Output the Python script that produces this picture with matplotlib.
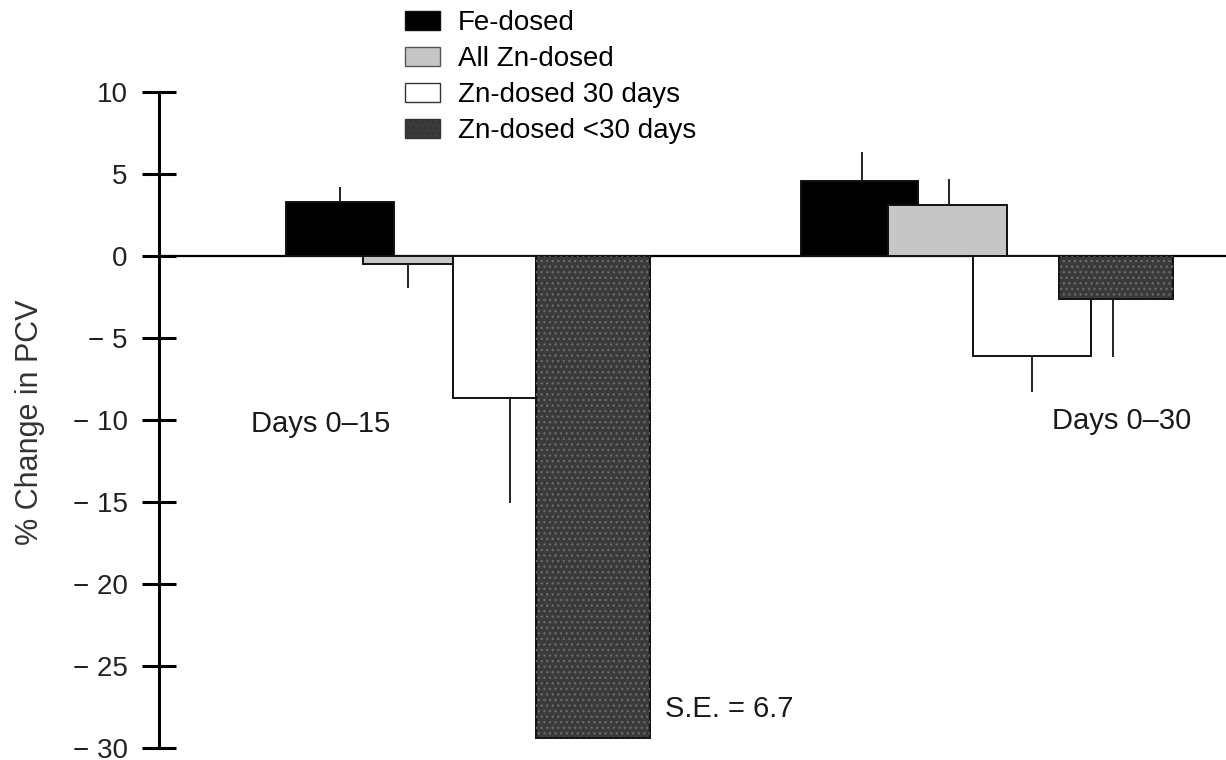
import numpy as np
import matplotlib.pyplot as plt
from matplotlib.patches import Patch

plt.rcParams['font.family'] = ['Liberation Sans', 'DejaVu Sans']

# data
series = ['Fe-dosed', 'All Zn-dosed', 'Zn-dosed 30 days', 'Zn-dosed <30 days']
periods = ['Days 0\u201315', 'Days 0\u201330']
change_d15 = [3.3, -0.52, -8.66, -29.4]
change_d30 = [4.57, 3.07, -6.12, -2.66]
se_d15 = [0.88, 1.43, 6.42, np.nan]
se_d30 = [1.73, 1.59, 2.17, 3.5]
se_note = 'S.E. = 6.7'
yticks = [10, 5, 0, -5, -10, -15, -20, -25, -30]

# layout: axis x units are pixels right of the y axis
bar_left = [[127, 204, 294, 377], [642, 729, 814, 900]]
bar_width = [[108, 90, 83, 114], [117, 119, 118, 114]]
err_shift = [[0, 0, 15, 0], [2, 1, 0, -3]]
face = ['black', '#c6c6c6', 'white', '#3a3a3a']

fig = plt.figure(figsize=(12.26, 7.6), dpi=100)
ax = fig.add_axes([159 / 1226, 12 / 760, 1 - 159 / 1226, 656.3 / 760])
ax.set_xlim(0, 1067)
ax.set_ylim(-30, 10)

ax.axhline(0, color='black', lw=1.6, zorder=1)

for g, (vals, ses) in enumerate([(change_d15, se_d15), (change_d30, se_d30)]):
    for i, v in enumerate(vals):
        x0 = bar_left[g][i]
        w = bar_width[g][i]
        ax.bar(x0, v, width=w, align='edge', color=face[i],
               edgecolor='#111111', lw=1.4, zorder=2 + i)
        if i == 3:
            # speckled texture of the dark bars
            ax.bar(x0, v, width=w, align='edge', color='none',
                   edgecolor='#6a6a6a', hatch='...', lw=0, zorder=2 + i)
        if not np.isnan(ses[i]):
            xe = x0 + w / 2 + err_shift[g][i]
            end = v + np.sign(v) * ses[i]
            ax.vlines(xe, v, end, color='#222222', lw=1.4, zorder=2 + i)

ax.text(92, -10.73, periods[0], fontsize=21, va='baseline', ha='left', color='#1a1a1a')
ax.text(893, -10.57, periods[1], fontsize=21, va='baseline', ha='left', color='#1a1a1a')
ax.text(506, -28.13, se_note, fontsize=21, va='baseline', ha='left', color='#1a1a1a')

for s in ['top', 'right', 'bottom']:
    ax.spines[s].set_visible(False)
ax.spines['left'].set_linewidth(2.2)
ax.set_xticks([])
ax.set_yticks(yticks)
ax.set_yticklabels([('\u2212 %d' % -t) if t < 0 else str(t) for t in yticks],
                   fontsize=20, color='#222222')
ax.tick_params(axis='y', direction='inout', length=25, width=2.2, pad=10)
ax.set_ylabel('% Change in PCV', fontsize=22, color='#333333')
ax.yaxis.set_label_coords(-114 / 1067, 0.5 - (422 - 420) / 656.3)

handles = [Patch(facecolor=face[0], edgecolor='#111111'),
           Patch(facecolor=face[1], edgecolor='#555555'),
           Patch(facecolor=face[2], edgecolor='#333333'),
           Patch(facecolor=face[3], edgecolor='#333333', hatch='...')]
fig.legend(handles, series, loc='upper left', bbox_to_anchor=(405 / 1226, 1 - 10 / 760),
           frameon=False, fontsize=20, handlelength=1.26, handleheight=0.65,
           handletextpad=0.65, labelspacing=0.36, borderaxespad=0, borderpad=0)

fig.savefig('out.png', dpi=100)
